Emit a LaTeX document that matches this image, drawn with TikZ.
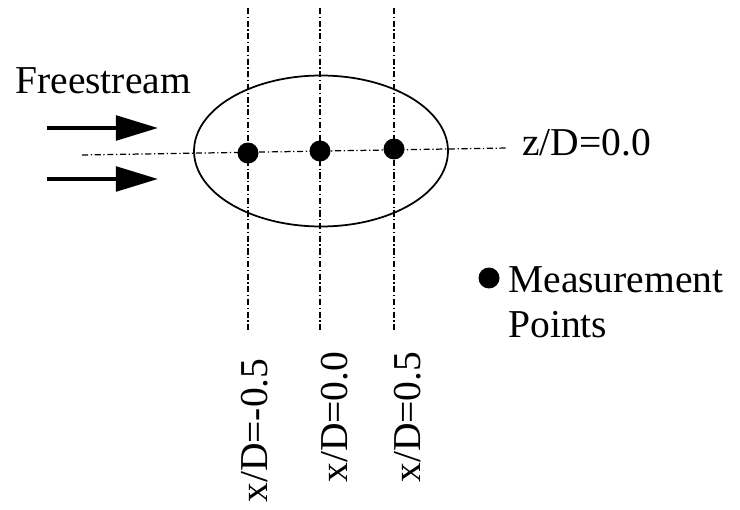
\documentclass[tikz,border=0pt]{standalone}
\usepackage{fontspec}
\setmainfont{Liberation Serif}
\usepackage{tikz}
\usetikzlibrary{arrows.meta, positioning, shapes.geometric}

\begin{document}
\begin{tikzpicture}[
        x=0.02cm, y=-0.02cm,
        >={Triangle[length=24pt, width=14pt]},
        lbl/.style={inner sep=0pt, font=\fontsize{22.5}{26}\selectfont},
        vlbl/.style={lbl, rotate=90, anchor=base west},
        axisline/.style={line width=0.7pt, dash pattern=on 3.5pt off 1.5pt on 0.7pt off 1.5pt},
        flow/.style={->, line width=2.2pt},
        mpoint/.style={circle, fill=black, inner sep=0pt, minimum size=0.42cm},
        body/.style={ellipse, draw, line width=1pt, inner sep=0pt, minimum width=5.08cm, minimum height=3.02cm}
    ]
    \useasboundingbox (0,0) rectangle (740,510);

    % --- Body and axis lines ---
    \node[body] (ellip) at (321,151) {};
    \coordinate (hleft) at (82,155);
    \coordinate (hright) at (508,148);
    \draw[axisline] (hleft) -- (hright);
    \foreach \name/\xx/\yy in {a/248/153, b/320/151, c/394/149} {
        \coordinate (top\name) at (\xx,8);
        \coordinate (bot\name) at (\xx,333);
        \draw[axisline] (top\name) -- (bot\name);
        \node[mpoint] (pt\name) at (\xx,\yy) {};
    }

    % --- Freestream ---
    \node[lbl, anchor=base west] (free) at (15,93) {Freestream};
    \coordinate (fsa) at (47,128);
    \coordinate (fsb) at (47,179);
    \coordinate (fta) at (158,128);
    \coordinate (ftb) at (158,179);
    \draw[flow] (fsa) -- (fta);
    \draw[flow] (fsb) -- (ftb);

    % --- Labels ---
    \node[lbl, anchor=base west] (zlbl) at (522,155) {z/D=0.0};
    \node[vlbl] (xlbla) at (267,503) {x/D=-0.5};
    \node[vlbl] (xlblb) at (347,483) {x/D=0.0};
    \node[vlbl] (xlblc) at (420,483) {x/D=0.5};

    % --- Legend ---
    \node[mpoint] (legdot) at (489,278) {};
    \node[lbl, anchor=base west] (legtxt) at (508,292) {Measurement};
    \node[lbl, anchor=base west] (legtxtb) at (508,337) {Points};
\end{tikzpicture}
\end{document}
